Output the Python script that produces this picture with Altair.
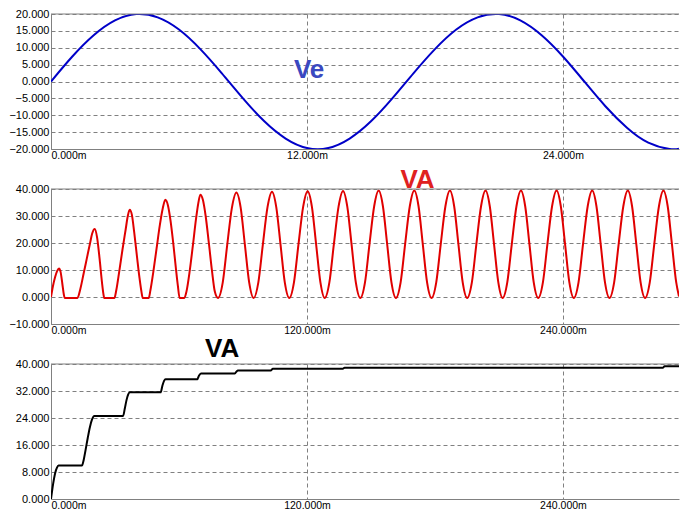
import altair as alt
import pandas as pd

FONT = "Liberation Sans"
GRID = "#808080"

# ---------------- data ----------------
# Panel 1: Ve (time in ms)
ve_t = [0, 1, 2, 3, 4, 5, 6, 7, 8, 9, 10, 11, 12, 13, 14, 15, 16, 17, 18, 19,
        20, 21, 22, 23, 24, 25, 26, 27, 28, 29, 29.44]
ve_v = [0.0, 7.4, 13.7, 18.1, 20.0, 19.0, 15.4, 9.6, 2.5, -5.0, -11.8, -16.9,
        -19.7, -19.7, -16.9, -11.8, -5.0, 2.5, 9.6, 15.4, 19.0, 20.0, 18.1,
        13.7, 7.4, 0.0, -7.4, -13.7, -18.1, -20.0, -19.9]

# Panel 2: VA (red)
va_t = [0, 0.9, 1.9, 2.9, 3.75, 4.5, 5.3, 6.0, 6.4, 12.4,
        13.75, 15.3, 16.8, 18.3, 19.3, 20.5, 21.6, 22.8, 23.9, 24.6, 25.0, 29.7,
        30.6, 32.0, 33.5, 35.0, 36.0, 36.9, 37.9, 39.0, 40.3, 41.5, 42.4, 43.0, 45.8,
        46.6, 48.0, 49.5, 51.0, 52.3, 53.6, 54.8, 56.0, 57.3, 58.5, 59.5, 60.3, 62.5,
        63.5, 65.0, 66.5, 68.0, 69.0, 70.0, 71.2, 72.5, 74.0, 75.5, 76.8,
        78.3, 80.5, 82.6, 84.8, 86.9, 88.9, 90.9, 92.9,
        95.0, 97.2, 99.3, 101.5, 103.6, 105.6, 107.6, 109.6,
        111.7, 113.9, 116.0, 118.2, 120.3, 122.3, 124.3, 126.3,
        128.3, 130.5, 132.6, 134.8, 136.9, 138.9, 140.9, 142.9,
        145.0, 147.2, 149.3, 151.5, 153.6, 155.6, 157.6, 159.6,
        161.7, 163.9, 166.0, 168.2, 170.3, 172.3, 174.3, 176.3,
        178.4, 180.6, 182.7, 184.9, 187.0, 189.0, 191.0, 193.0,
        195.1, 197.3, 199.4, 201.6, 203.7, 205.7, 207.7, 209.7,
        211.7, 213.9, 216.0, 218.2, 220.3, 222.3, 224.3, 226.3,
        228.4, 230.6, 232.7, 234.9, 237.0, 239.0, 241.0, 243.0,
        245.1, 247.3, 249.4, 251.6, 253.7, 255.7, 257.7, 259.7,
        261.8, 264.0, 266.1, 268.3, 270.4, 272.4, 274.4, 276.4,
        278.5, 280.7, 282.8, 285.0, 287.1, 289.1, 291.1, 293.1, 294.4]
va_v = [0.0, 4.0, 7.3, 9.7, 10.6, 9.3, 5.0, 1.0, -0.4, -0.4,
        3.0, 8.7, 14.3, 19.9, 23.5, 25.2, 22.1, 14.0, 5.4, 1.0, -0.4, -0.4,
        2.5, 9.5, 17.5, 25.0, 30.0, 32.3, 30.5, 24.0, 15.0, 7.0, 2.0, -0.4, -0.4,
        2.5, 9.5, 18.0, 26.5, 32.5, 36.0, 34.0, 28.5, 20.0, 11.0, 4.0, -0.4, -0.4,
        2.0, 9.5, 19.0, 29.0, 34.5, 37.9, 36.0, 30.0, 20.0, 9.5, 2.0,
        -0.4, 5.3, 19.2, 33.0, 38.7, 33.2, 19.3, 5.4,
        -0.4, 5.4, 19.3, 33.3, 39.0, 33.3, 19.4, 5.4,
        -0.4, 5.4, 19.4, 33.4, 39.2, 33.5, 19.4, 5.4,
        -0.4, 5.4, 19.5, 33.5, 39.3, 33.5, 19.5, 5.4,
        -0.4, 5.4, 19.5, 33.6, 39.4, 33.6, 19.5, 5.4,
        -0.4, 5.4, 19.5, 33.6, 39.4, 33.6, 19.5, 5.4,
        -0.4, 5.4, 19.5, 33.6, 39.4, 33.6, 19.5, 5.4,
        -0.4, 5.4, 19.5, 33.6, 39.4, 33.6, 19.5, 5.4,
        -0.4, 5.4, 19.5, 33.6, 39.4, 33.6, 19.5, 5.4,
        -0.4, 5.4, 19.5, 33.6, 39.4, 33.6, 19.5, 5.4,
        -0.4, 5.4, 19.5, 33.6, 39.4, 33.6, 19.5, 5.4,
        -0.4, 5.4, 19.5, 33.6, 39.4, 33.6, 19.5, 5.4,
        -0.4, 5.4, 19.5, 33.6, 39.4, 33.6, 19.5, 5.4, 0.2]

# Panel 3: VA (black, peak-held)
vb_t = [0, 1.0, 2.0, 2.8, 3.5, 14.5, 15.3, 16.2, 17.2, 18.2, 19.2, 20.3,
        33.8, 34.6, 35.4, 36.2, 37.0, 51.4, 52.2, 53.0, 53.7, 68.6, 69.4, 70.3,
        86.2, 87.0, 87.6, 103.0, 104.0, 136.8, 137.6, 286.8, 287.6, 294.4]
vb_v = [0.0, 4.5, 7.8, 9.3, 9.9, 9.9, 11.5, 14.5, 18.0, 21.2, 23.5, 24.6,
        24.6, 26.8, 29.3, 31.0, 31.6, 31.6, 33.5, 35.0, 35.5, 35.5, 36.6, 37.2,
        37.2, 37.8, 38.1, 38.1, 38.6, 38.6, 38.9, 38.9, 39.3, 39.3]

# axes
x1_domain = [0, 29.44]
x1_ticks = [0, 12, 24]
x2_domain = [0, 294.4]
x2_ticks = [0, 120, 240]
y1_ticks = [-20, -15, -10, -5, 0, 5, 10, 15, 20]
y2_ticks = [-10, 0, 10, 20, 30, 40]
y3_ticks = [0, 8, 16, 24, 32, 40]

W = 628
H = 135


def panel(t, v, color, interp, xdomain, xticks, ydomain, yticks,
          label, lx, ly, lcolor):
    df = pd.DataFrame({"t": t, "v": v})
    xax = alt.Axis(values=xticks, tickCount=len(xticks),
                   labelExpr="format(datum.value, '.3f') + 'm'",
                   title=None, grid=True, gridDash=[4, 3], gridColor=GRID,
                   gridWidth=1, domainColor=GRID, ticks=False, labelFlush=True,
                   labelPadding=1, labelOverlap=False, labelFontSize=10.5)
    yax = alt.Axis(values=yticks, tickCount=len(yticks), format=".3f",
                   title=None, grid=True,
                   gridDash=[4, 3], gridColor=GRID, gridWidth=1,
                   domainColor=GRID, ticks=False, labelPadding=2,
                   labelOverlap=False, labelFontSize=11)
    line = alt.Chart(df).mark_line(color=color, strokeWidth=2,
                                   interpolate=interp, clip=True).encode(
        x=alt.X("t:Q", scale=alt.Scale(domain=xdomain, nice=False, zero=False),
                axis=xax),
        y=alt.Y("v:Q", scale=alt.Scale(domain=ydomain, nice=False, zero=False),
                axis=yax),
    )
    top = alt.Chart(pd.DataFrame({"a": [0]})).mark_rule(
        color=GRID, strokeWidth=1).encode(
        x=alt.value(0), x2=alt.value(W), y=alt.value(0))
    txt = alt.Chart(pd.DataFrame({"t": [lx], "v": [ly], "s": [label]})).mark_text(
        font=FONT, fontSize=26, fontWeight="bold", color=lcolor,
        baseline="alphabetic", align="center").encode(
        x="t:Q", y="v:Q", text="s:N")
    return alt.layer(line, top, txt).properties(width=W, height=H)


p1 = panel(ve_t, ve_v, "#0000c8", "natural", x1_domain, x1_ticks, [-20, 20],
           y1_ticks, "Ve", 12.1, 1.1, "#3a48c0")
p2 = panel(va_t, va_v, "#e00000", "monotone", x2_domain, x2_ticks, [-10, 40],
           y2_ticks, "VA", 171.8, 40.4, "#e02020")
p3 = panel(vb_t, vb_v, "#000000", "monotone", x2_domain, x2_ticks, [0, 40],
           y3_ticks, "VA", 80.2, 42.1, "#000000")

chart = alt.vconcat(p1, p2, p3, spacing=40, bounds="flush").properties(
    padding=0
).configure_view(stroke=None).configure_axis(
    labelFont=FONT, labelColor="#000000", domainWidth=1
)

chart.save("out.html", embed_options={"renderer": "svg", "actions": False})
